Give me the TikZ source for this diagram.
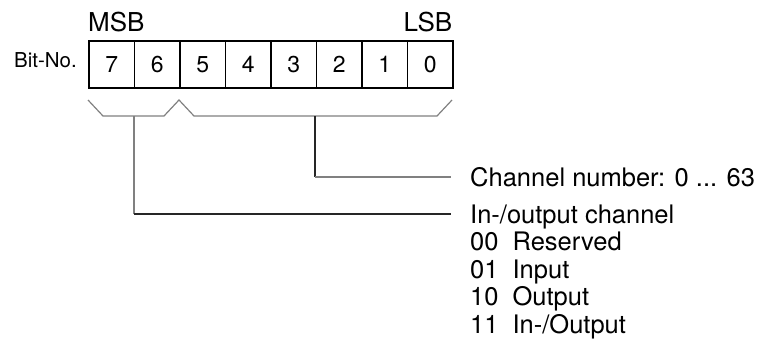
\documentclass[tikz,border=0pt]{standalone}
\usepackage{fontspec}
\setmainfont{TeX Gyre Heros}
\begin{document}
\begin{tikzpicture}[x=1pt,y=-1pt,
  bitcell/.style={draw=black,line width=1.8pt,minimum width=45.5pt,minimum height=47pt,inner sep=0pt,anchor=north west,font=\fontsize{23}{28}\selectfont},
  lbl/.style={anchor=base west,inner sep=0pt,font=\fontsize{25.5}{30}\selectfont},
  brace/.style={draw=black!50,line width=1.2pt,line join=miter},
  stemgray/.style={draw=black!50,line width=1.2pt},
  stemblack/.style={draw=black!85,line width=1.1pt}]
\useasboundingbox (0,0) rectangle (765,354);
% cells
\foreach \b [count=\i from 0] in {7,6,5,4,3,2,1,0}{
  \node[bitcell] (c\b) at (88+45.5*\i,40) {\b};
}
\node[anchor=base west,inner sep=0pt,font=\fontsize{26}{30}\selectfont] (msb) at (88,31) {MSB};
\node[anchor=base east,inner sep=0pt,font=\fontsize{26}{30}\selectfont] (lsb) at (452.5,31) {LSB};
\node[anchor=base east,inner sep=0pt,font=\fontsize{20.5}{24}\selectfont] (bitno) at (77,67.5) {Bit-No.};
% braces
\coordinate (b1) at (134,116);
\coordinate (b2) at (315,116);
\draw[brace] (88,100) -- (103,116) -- (164,116) -- (179,100) -- (194,116) -- (437,116) -- (452,100);
% labels
\node[lbl] (ch) at (470,186) {Channel number: 0 ... 63};
\node[lbl] (io) at (470,223) {In-/output channel};
\node[lbl] (r00) at (470,250.5) {00\hspace{0.55em}Reserved};
\node[lbl] (r01) at (470,278) {01\hspace{0.55em}Input};
\node[lbl] (r10) at (470,305.5) {10\hspace{0.55em}Output};
\node[lbl] (r11) at (470,333) {11\hspace{0.55em}In-/Output};
% connectors
\coordinate (e1) at (451,177);
\coordinate (e2) at (451,214);
\draw[stemblack] (b2) -- (b2 |- e1);
\draw[stemgray] (b2 |- e1) -- (e1);
\draw[stemgray] (b1) -- (b1 |- e2);
\draw[stemblack] (b1 |- e2) -- (e2);
\end{tikzpicture}
\end{document}
